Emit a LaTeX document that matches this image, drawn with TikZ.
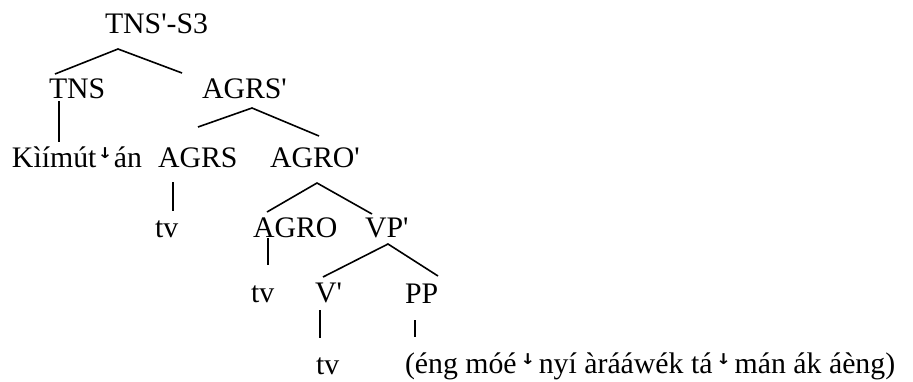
\documentclass[tikz,border=0pt]{standalone}
\usepackage{fontspec}
\setmainfont{Liberation Serif}[Ligatures=TeXOff]
\newfontfamily\dejavu{DejaVu Sans}
\newcommand\dstep{\raisebox{0.3em}{\scalebox{0.6}[0.5]{\dejavu\bfseries ↓}}}
\begin{document}
\begin{tikzpicture}[x=1pt,y=-1pt,
  lbl/.style={anchor=base west,inner sep=0pt,outer sep=0pt,font=\fontsize{29.8}{34}\selectfont},
  branch/.style={line width=1.6pt}]
\useasboundingbox (0,0) rectangle (913,381);
% labels
\node[lbl] (top) at (105,33) {TNS'-S3};
\node[lbl] (tns) at (49,98) {TNS};
\node[lbl] (agrsp) at (202,98) {AGRS'};
\node[lbl] (kim) at (12,167) {Kìímút\hspace{0.04em}\dstep\hspace{0.04em}án};
\node[lbl] (agrs) at (158,167) {AGRS};
\node[lbl] (agrop) at (270,167) {AGRO'};
\node[lbl] (tva) at (155,237) {tv};
\node[lbl] (agro) at (253,237) {AGRO};
\node[lbl] (vpp) at (365,237) {VP'};
\node[lbl] (tvb) at (251,302) {tv};
\node[lbl] (vbar) at (315,302) {V'};
\node[lbl] (pp) at (405,303) {PP};
\node[lbl] (tvc) at (316,374) {tv};
\node[lbl] (phrase) at (405,373) {(éng móé\hspace{0.12em}\dstep\hspace{0.12em}nyí àrááwék tá\hspace{0.12em}\dstep\hspace{0.12em}mán ák áèng)};
% branch points
\coordinate (topB) at (118,49);
\coordinate (tnsT) at (55,74);
\coordinate (agrspT) at (182,73);
\coordinate (tnsB) at (59,101);
\coordinate (kimT) at (59,142);
\coordinate (agrspB) at (252,108);
\coordinate (agrsT) at (198,127);
\coordinate (agropT) at (319,136);
\coordinate (agrsB) at (173,182);
\coordinate (tvaT) at (173,211);
\coordinate (agropB) at (317,183);
\coordinate (agroT) at (267,212);
\coordinate (vppT) at (372,214);
\coordinate (agroB) at (268,238);
\coordinate (tvbT) at (268,265);
\coordinate (vppB) at (388,244);
\coordinate (vbarT) at (323,277);
\coordinate (ppT) at (438,276);
\coordinate (vbarB) at (320,310);
\coordinate (tvcT) at (320,338);
\coordinate (ppB) at (415,320);
\coordinate (phraseT) at (415,337);
% branches
\draw[branch] (tnsT) -- (topB) -- (agrspT);
\draw[branch] (tnsB) -- (kimT);
\draw[branch] (agrsT) -- (agrspB) -- (agropT);
\draw[branch] (agrsB) -- (tvaT);
\draw[branch] (agroT) -- (agropB) -- (vppT);
\draw[branch] (agroB) -- (tvbT);
\draw[branch] (vbarT) -- (vppB) -- (ppT);
\draw[branch] (vbarB) -- (tvcT);
\draw[branch] (ppB) -- (phraseT);
\end{tikzpicture}
\end{document}
